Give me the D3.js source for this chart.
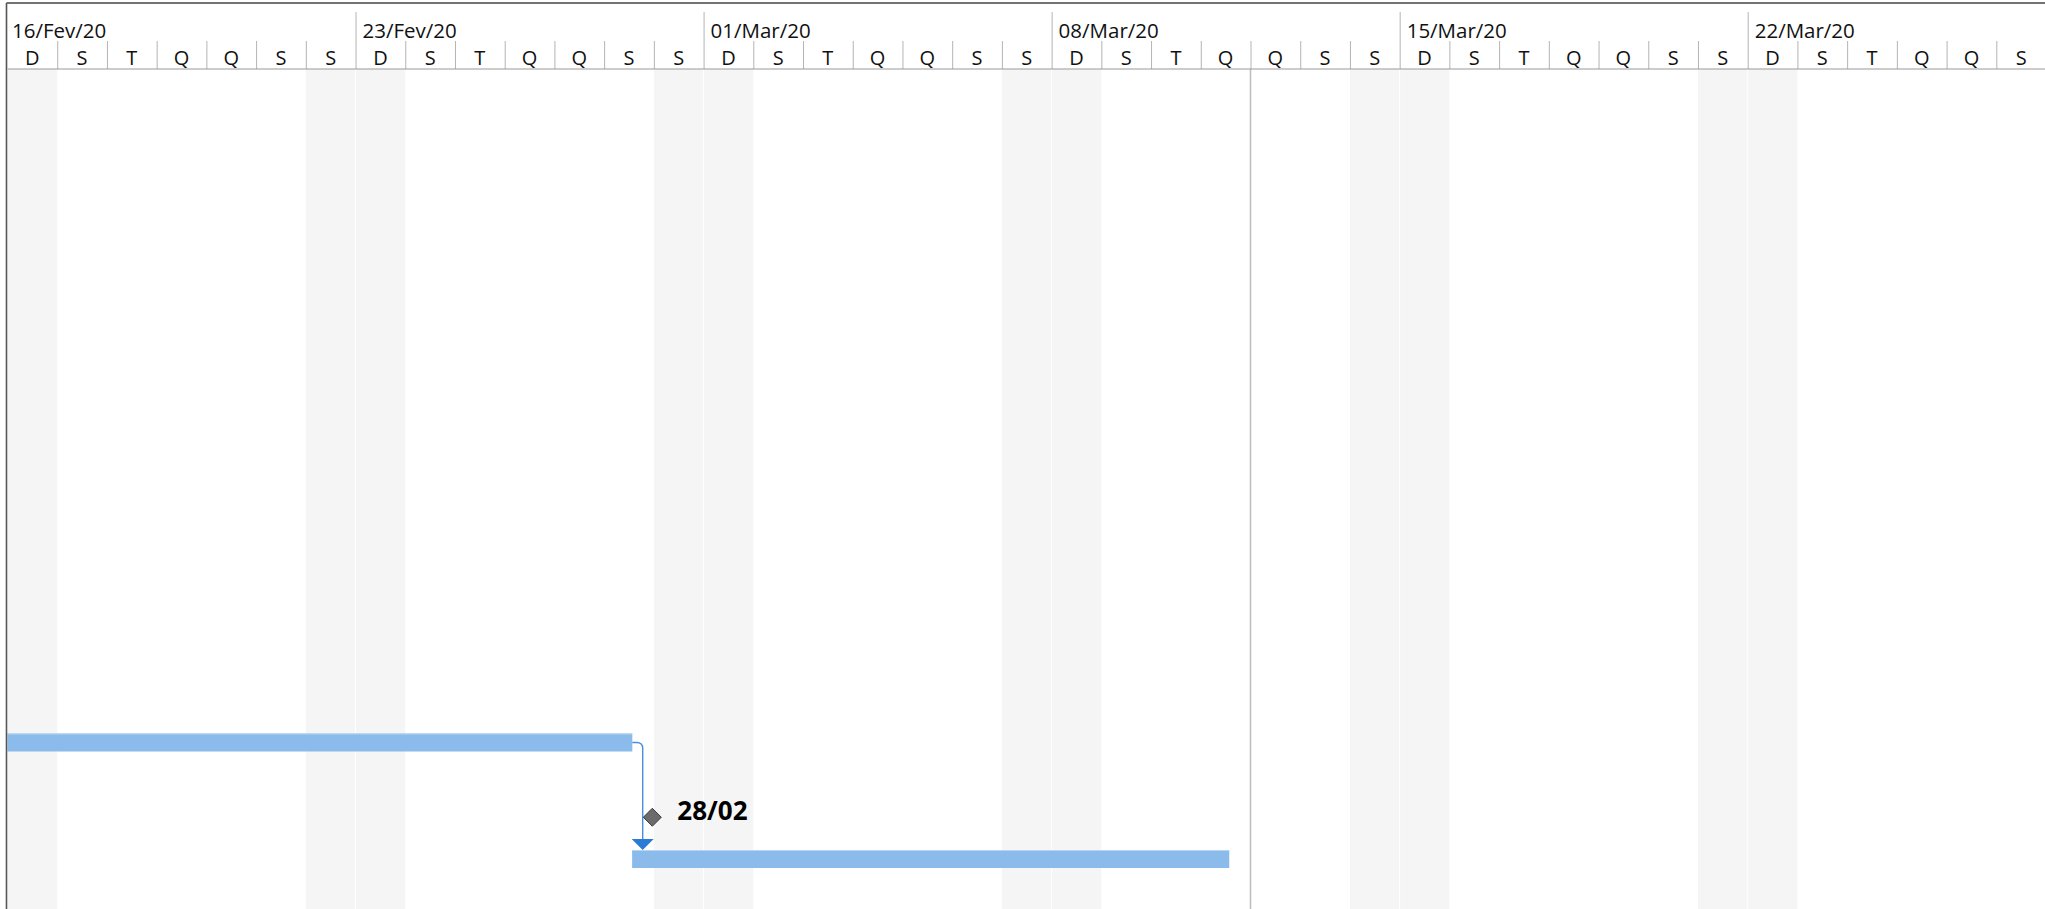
<!DOCTYPE html>
<html>
<head>
<meta charset="utf-8">
<script src="https://cdn.jsdelivr.net/npm/d3@7"></script>
<style>
  html, body { margin: 0; padding: 0; background: #fff; }
  svg { display: block; }
  text { font-family: "Open Sans", "Noto Sans", sans-serif; }
</style>
</head>
<body>
<svg id="chart" width="2045" height="909"></svg>
<script>
// ---- data ----
const timelineStart = "2020-02-16";
const timelineEnd = "2020-03-29";
const weekdayLetters = ["D", "S", "T", "Q", "Q", "S", "S"]; // Sunday..Saturday (pt-BR)
const monthAbbr = ["Jan", "Fev", "Mar", "Abr", "Mai", "Jun", "Jul", "Ago", "Set", "Out", "Nov", "Dez"];
const taskRows = [0, 1, 2];
const taskStarts = ["2020-02-10T00:00", null, "2020-02-28T13:30"];
const taskEnds = ["2020-02-28T13:36", null, "2020-03-11T13:45"];
const milestoneDates = [null, "2020-02-28T23:15", null];
const milestoneLabels = [null, "28/02", null];
const statusDate = "2020-03-12T00:00";
const links = [{ from: 0, to: 2 }];

// ---- setup ----
const W = 2045, H = 909;
const left = 7.5, headerTop = 3, headerBottom = 69;
const dayWidth = 49.72;
const parse = s => new Date(s + (s.length === 10 ? "T00:00:00Z" : ":00Z"));
const t0 = parse(timelineStart), t1 = parse(timelineEnd);
const nDays = Math.round((t1 - t0) / 864e5);
const x = d3.scaleUtc().domain([t0, t1]).range([left, left + nDays * dayWidth]);
const y = d3.scaleLinear().domain([0, 2]).range([742.5, 859]);

const svg = d3.select("#chart");
const days = d3.utcDay.range(t0, t1);
const weeks = d3.utcWeek.range(t0, t1);
const visibleDays = days.filter(d => x(d) + dayWidth / 2 + 8 < W);

svg.append("clipPath").attr("id", "body").append("rect")
  .attr("x", left).attr("y", headerBottom).attr("width", W - left).attr("height", H - headerBottom);
svg.append("clipPath").attr("id", "all").append("rect")
  .attr("x", left).attr("y", 0).attr("width", W - left).attr("height", H);

const body = svg.append("g").attr("clip-path", "url(#body)");

// weekend shading
body.selectAll("rect.wk").data(days.filter(d => d.getUTCDay() === 0 || d.getUTCDay() === 6))
  .join("rect").attr("class", "wk")
  .attr("x", d => x(d) + (d.getUTCDay() === 0 ? 0.5 : 0))
  .attr("y", headerBottom)
  .attr("width", d => x(d3.utcDay.offset(d, 1)) - x(d) - 0.5)
  .attr("height", H - headerBottom)
  .attr("fill", "#f5f5f5");

// status date line
body.append("line")
  .attr("x1", x(parse(statusDate))).attr("x2", x(parse(statusDate)))
  .attr("y1", headerBottom).attr("y2", H)
  .attr("stroke", "#bdbdbd").attr("stroke-width", 1.5);

// task bars
const barH = 18;
const bars = taskRows.filter(i => taskStarts[i]);
body.selectAll("rect.bar").data(bars).join("rect").attr("class", "bar")
  .attr("x", i => x(parse(taskStarts[i])))
  .attr("y", i => y(i) - barH / 2)
  .attr("width", i => x(parse(taskEnds[i])) - x(parse(taskStarts[i])))
  .attr("height", barH)
  .attr("fill", "#8abbeb");
body.selectAll("rect.barhi").data(bars).join("rect").attr("class", "barhi")
  .attr("x", i => x(parse(taskStarts[i])))
  .attr("y", i => y(i) - barH / 2)
  .attr("width", i => x(parse(taskEnds[i])) - x(parse(taskStarts[i])))
  .attr("height", 1)
  .attr("fill", "#b6d4f3");

// links
links.forEach(l => {
  const xs = x(parse(taskEnds[l.from]));
  const ys = y(l.from);
  const xt = x(parse(taskStarts[l.to])) + 10.6;
  const yt = y(l.to) - barH / 2;
  const r = 6;
  const p = d3.path();
  p.moveTo(xs, ys);
  p.lineTo(xt - r, ys);
  p.quadraticCurveTo(xt, ys, xt, ys + r);
  p.lineTo(xt, yt - 10);
  body.append("path").attr("d", p.toString()).attr("fill", "none")
    .attr("stroke", "#4a8fdb").attr("stroke-width", 1.4);
  body.append("path")
    .attr("d", `M${xt - 11},${yt - 11}L${xt + 11},${yt - 11}L${xt},${yt}Z`)
    .attr("fill", "#2a7bd6");
});

// milestones
const ms = taskRows.filter(i => milestoneDates[i]);
const dh = 9;
body.selectAll("path.ms").data(ms).join("path").attr("class", "ms")
  .attr("d", i => {
    const cx = x(parse(milestoneDates[i])), cy = y(i) + 16.5;
    return `M${cx},${cy - dh}L${cx + dh},${cy}L${cx},${cy + dh}L${cx - dh},${cy}Z`;
  })
  .attr("fill", "#6b6b6b").attr("stroke", "#3a3a3a").attr("stroke-width", 1);
body.selectAll("text.ms").data(ms).join("text").attr("class", "ms")
  .attr("x", i => x(parse(milestoneDates[i])) + 25)
  .attr("y", i => y(i) + 19.5)
  .attr("font-size", 26).attr("font-weight", "bold").attr("fill", "#000")
  .text(i => milestoneLabels[i]);

// header
const head = svg.append("g").attr("clip-path", "url(#all)");
head.append("rect").attr("x", left).attr("y", headerTop).attr("width", W).attr("height", headerBottom - headerTop).attr("fill", "#fff");
head.selectAll("line.ds").data(days.filter(d => d.getUTCDay() !== 0))
  .join("line").attr("class", "ds")
  .attr("x1", d => x(d) + 0.5).attr("x2", d => x(d) + 0.5)
  .attr("y1", 41).attr("y2", headerBottom)
  .attr("stroke", "#b4b4b4").attr("stroke-width", 1);
head.selectAll("line.ws").data(weeks.filter(d => +d > +t0))
  .join("line").attr("class", "ws")
  .attr("x1", d => x(d) + 0.5).attr("x2", d => x(d) + 0.5)
  .attr("y1", 12).attr("y2", headerBottom)
  .attr("stroke", "#b4b4b4").attr("stroke-width", 1);
const fmtWeek = d => d3.utcFormat("%d")(d) + "/" + monthAbbr[d.getUTCMonth()] + "/" + d3.utcFormat("%y")(d);
head.selectAll("text.wl").data(weeks)
  .join("text").attr("class", "wl")
  .attr("x", (d, i) => x(d) + (i === 0 ? 4.5 : 7))
  .attr("y", 37.5)
  .attr("font-size", 20.5).attr("fill", "#111")
  .text(fmtWeek);
head.selectAll("text.dl").data(visibleDays)
  .join("text").attr("class", "dl")
  .attr("x", d => x(d) + dayWidth / 2)
  .attr("y", 64.5)
  .attr("text-anchor", "middle")
  .attr("font-size", 20).attr("fill", "#111")
  .text(d => weekdayLetters[d.getUTCDay()]);
head.append("line").attr("x1", left).attr("x2", W).attr("y1", headerBottom).attr("y2", headerBottom)
  .attr("stroke", "#9a9a9a").attr("stroke-width", 1.2);
svg.append("line").attr("x1", left - 1).attr("x2", W).attr("y1", headerTop).attr("y2", headerTop)
  .attr("stroke", "#444").attr("stroke-width", 1.3);
svg.append("line").attr("x1", left - 1).attr("x2", left - 1).attr("y1", headerTop).attr("y2", H)
  .attr("stroke", "#555").attr("stroke-width", 1.6);
</script>
</body>
</html>
